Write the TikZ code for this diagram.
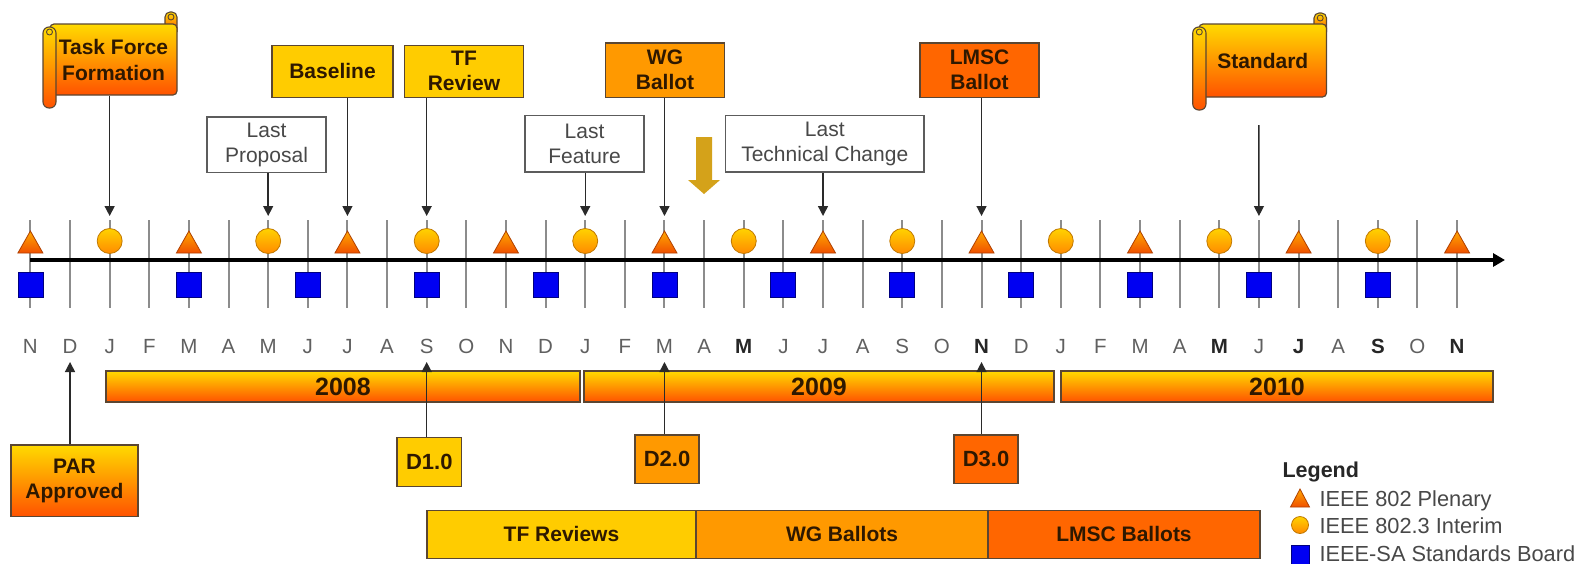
\documentclass[tikz,border=0pt]{standalone}
\usepackage{fontspec}
\setmainfont{Liberation Sans}
\usetikzlibrary{arrows.meta}
\definecolor{cyel}{HTML}{FFCC00}
\definecolor{corg}{HTML}{FF9900}
\definecolor{clmsc}{HTML}{FF6600}
\definecolor{gtop}{HTML}{FFDA00}
\definecolor{gbot}{HTML}{FF5200}
\definecolor{ctxt}{HTML}{2E1800}
\definecolor{cbord}{HTML}{5A4632}
\definecolor{ctick}{HTML}{8C8C8C}
\definecolor{cconn}{HTML}{2A2A2A}
\definecolor{cgold}{HTML}{D4A21A}
\definecolor{csq}{HTML}{0000F2}
\definecolor{csqd}{HTML}{000080}
\definecolor{cmon}{HTML}{606060}
\definecolor{cwtxt}{HTML}{484848}
\definecolor{cwbord}{HTML}{5C5C5C}
\definecolor{ctrit}{HTML}{FFA800}
\definecolor{ctrib}{HTML}{F05000}
\definecolor{ctrid}{HTML}{B04000}
\definecolor{ccirt}{HTML}{FFD200}
\definecolor{ccirb}{HTML}{FF8A00}
\definecolor{ccird}{HTML}{C07800}
\begin{document}
\begin{tikzpicture}[x=1pt,y=-1pt,
  box/.style={draw=cbord, line width=1.2pt, text=ctxt, align=center, inner sep=0pt,
    font=\fontsize{21}{25}\selectfont\bfseries},
  wbox/.style={draw=cwbord, fill=white, line width=1.2pt, text=cwtxt, align=center,
    inner sep=0pt, font=\fontsize{21}{25}\selectfont},
  grad/.style={top color=gtop, bottom color=gbot},
  conn/.style={draw=cconn, line width=1.4pt, -{Triangle[width=10pt,length=10pt]}},
  tickline/.style={draw=ctick, line width=2pt},
  mon/.style={anchor=base, text=cmon, font=\fontsize{20.5}{22}\selectfont},
  scrollpart/.style={draw=cbord, line width=1.1pt, top color=gtop, bottom color=gbot},
  yearbar/.style={box, grad, minimum height=31pt, font=\fontsize{25}{28}\selectfont\bfseries},
  phase/.style={box, minimum height=48pt},
  dbox/.style={box, font=\fontsize{22}{25}\selectfont\bfseries},
  legtxt/.style={anchor=base west, text=cwtxt, font=\fontsize{21.8}{24}\selectfont}
]
\useasboundingbox (0,0) rectangle (1578,563);
\fill[white] (0,0) rectangle (1578,563);

% month coordinates, ticks
\foreach \i in {0,...,36} {
  \pgfmathsetmacro\xx{30.4+39.63*\i}
  \coordinate (m\i) at (\xx,260);
  \coordinate (ta\i) at (\xx,216);
  \coordinate (tb\i) at (\xx,362);
  \draw[tickline] (\xx,220) -- (\xx,308);
}
% axis
\coordinate (axs) at (30,260);
\coordinate (axe) at (1505,260);
\draw[line width=3.5pt, -{Triangle[width=13pt,length=12pt]}] (axs) -- (axe);

% plenary triangles
\foreach \i in {0,4,...,36} {
  \pgfmathsetmacro\xx{30.4+39.63*\i}
  \shadedraw[top color=ctrit, bottom color=ctrib, draw=ctrid, line width=0.8pt]
    ({\xx-12.5},253) -- (\xx,231) -- ({\xx+12.5},253) -- cycle;
}
% interim circles
\foreach \i in {2,6,...,34} {
  \pgfmathsetmacro\xx{30.4+39.63*\i}
  \shadedraw[top color=ccirt, bottom color=ccirb, draw=ccird, line width=0.8pt]
    (\xx,241) circle (12.5);
}
% standards board squares
\foreach \i in {0,4,7,10,13,16,19,22,25,28,31,34} {
  \pgfmathsetmacro\xx{30.4+39.63*\i}
  \filldraw[fill=csq, draw=csqd, line width=0.8pt]
    ({\xx-12.5},272) rectangle ({\xx+12.5},297);
}

% ---------- top: Task Force Formation scroll
\draw[scrollpart, rounded corners=5pt] (165,32) -- (165,12) -- (177,12) -- (177,32);
\draw[cbord, line width=0.9pt] (171,17) circle (3);
\node[box, grad, rounded corners=4pt, minimum width=127pt, minimum height=71pt,
  font=\fontsize{21}{26}\selectfont\bfseries] (tff) at (113.5,59.5) {Task Force\\Formation};
\shadedraw[scrollpart, rounded corners=6pt] (43,27) rectangle (56,108);
\draw[cbord, line width=0.9pt] (49.5,32) circle (3);

% ---------- Standard scroll
\draw[scrollpart, rounded corners=5pt] (1314,32) -- (1314,13) -- (1326.5,13) -- (1326.5,32);
\draw[cbord, line width=0.9pt] (1320.2,18) circle (3);
\node[box, grad, rounded corners=4pt, minimum width=127.5pt, minimum height=73pt]
  (std) at (1262.75,60.5) {Standard};
\shadedraw[scrollpart, rounded corners=6pt] (1192.7,27) rectangle (1206,110);
\draw[cbord, line width=0.9pt] (1199.3,32) circle (3);
\coordinate (stdfrom) at (1258.9,125);

% ---------- top boxes
\node[box, fill=cyel, minimum width=121pt, minimum height=52pt] (base) at (332.5,71.25) {Baseline};
\node[box, fill=cyel, minimum width=118.6pt, minimum height=52pt] (tfrev) at (464,71.25) {TF\\Review};
\node[box, fill=corg, minimum width=119pt, minimum height=54.5pt] (wgb) at (665,70.25) {WG\\Ballot};
\node[box, fill=clmsc, minimum width=119pt, minimum height=54.5pt] (lmscb) at (979.5,70.25) {LMSC\\Ballot};

\node[wbox, minimum width=119pt, minimum height=55.5pt] (lprop) at (266.5,144.75) {Last\\Proposal};
\node[wbox, minimum width=119pt, minimum height=56.5pt] (lfeat) at (584.5,143.75) {Last\\Feature};
\node[wbox, minimum width=198.5pt, minimum height=56.5pt] (ltech) at (824.75,143.75) {Last\\Technical Change};

% gold block arrow
\fill[cgold] (696,137) -- (712,137) -- (712,180) -- (720,180) -- (704,194) -- (688,180) -- (696,180) -- cycle;

% top connectors
\draw[conn] (tff.south -| m2) -- (ta2);
\draw[conn] (lprop.south -| m6) -- (ta6);
\draw[conn] (base.south -| m8) -- (ta8);
\draw[conn] (tfrev.south -| m10) -- (ta10);
\draw[conn] (lfeat.south -| m14) -- (ta14);
\draw[conn] (wgb.south -| m16) -- (ta16);
\draw[conn] (ltech.south -| m20) -- (ta20);
\draw[conn] (lmscb.south -| m24) -- (ta24);
\draw[conn] (stdfrom) -- (ta31);

% month labels
\foreach \m/\b [count=\i from 0] in {N/0,D/0,J/0,F/0,M/0,A/0,M/0,J/0,J/0,A/0,S/0,O/0,
  N/0,D/0,J/0,F/0,M/0,A/0,M/1,J/0,J/0,A/0,S/0,O/0,N/1,D/0,J/0,F/0,M/0,A/0,M/1,J/0,J/1,A/0,S/1,O/0,N/1} {
  \pgfmathsetmacro\xx{30.4+39.63*\i}
  \node[mon] (ml\i) at (\xx,353.5) {\ifnum\b=1 \bfseries\color{black!85}\fi\m};
}

% year bars
\node[yearbar, minimum width=474pt] (y2008) at (343,386.5) {2008};
\node[yearbar, minimum width=470pt] (y2009) at (819,386.5) {2009};
\node[yearbar, minimum width=432pt] (y2010) at (1277,386.5) {2010};

% bottom boxes
\node[box, grad, minimum width=127pt, minimum height=71.5pt] (par) at (74.5,480.75) {PAR\\Approved};
\node[dbox, fill=cyel, minimum width=64.5pt, minimum height=49pt] (d1) at (429.25,462.2) {D1.0};
\node[dbox, fill=corg, minimum width=64pt, minimum height=48.3pt] (d2) at (667,459.2) {D2.0};
\node[dbox, fill=clmsc, minimum width=64pt, minimum height=48.3pt] (d3) at (986,459.2) {D3.0};

\draw[conn] (par.north -| m1) -- (tb1);
\draw[conn] (d1.north -| m10) -- (tb10);
\draw[conn] (d2.north -| m16) -- (tb16);
\draw[conn] (d3.north -| m24) -- (tb24);

% phase bars
\node[phase, fill=cyel, minimum width=269pt] (tfrs) at (561.5,534.2) {TF Reviews};
\node[phase, fill=corg, minimum width=292pt] (wgbs) at (842,534.2) {WG Ballots};
\node[phase, fill=clmsc, minimum width=272pt] (lmscs) at (1124,534.2) {LMSC Ballots};

% legend
\node[anchor=base west, text=black!85, font=\fontsize{21.5}{24}\selectfont\bfseries] (leg) at (1279,477) {Legend};
\shadedraw[top color=ctrit, bottom color=ctrib, draw=ctrid, line width=0.8pt]
  (1290.5,507) -- (1300,489) -- (1309.5,507) -- cycle;
\node[legtxt] (leg1) at (1316,506) {IEEE 802 Plenary};
\shadedraw[top color=ccirt, bottom color=ccirb, draw=ccird, line width=0.8pt] (1300,525) circle (8.5);
\node[legtxt] (leg2) at (1316,533) {IEEE 802.3 Interim};
\filldraw[fill=csq, draw=csqd, line width=0.8pt] (1291,545) rectangle (1309,566);
\node[legtxt] (leg3) at (1316,561) {IEEE-SA Standards Board};
\end{tikzpicture}
\end{document}
